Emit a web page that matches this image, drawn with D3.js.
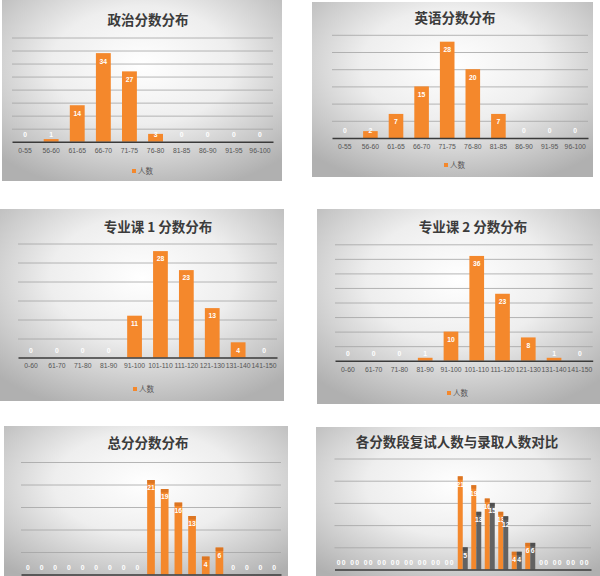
<!DOCTYPE html>
<html>
<head>
<meta charset="utf-8">
<script src="https://cdn.jsdelivr.net/npm/d3@7"></script>
<style>
  body { margin: 0; background: #fff; }
  svg text { font-family: "Liberation Sans", "Noto Sans CJK SC", sans-serif; }
  .title { font-family: "Noto Sans CJK SC", sans-serif; font-weight: 700; }
</style>
</head>
<body>
<script>
// ==================
// Data
// ==================
const politicsCats = ['0-55', '56-60', '61-65', '66-70', '71-75', '76-80', '81-85', '86-90', '91-95', '96-100'];
const politicsVals = [0, 1, 14, 34, 27, 3, 0, 0, 0, 0];
const englishVals = [0, 2, 7, 15, 28, 20, 7, 0, 0, 0];

const majorCats = ['0-60', '61-70', '71-80', '81-90', '91-100', '101-110', '111-120', '121-130', '131-140', '141-150'];
const major1Vals = [0, 0, 0, 0, 11, 28, 23, 13, 4, 0];
const major2Vals = [0, 0, 0, 1, 10, 36, 23, 8, 1, 0];

// the bottom two charts are cut off by the picture edge: their tick labels and legends are not visible
const totalCats = ['0-290', '291-300', '301-310', '311-320', '321-330', '331-340', '341-350', '351-360', '361-370',
  '371-380', '381-390', '391-400', '401-410', '411-420', '421-430', '431-440', '441-450', '451-460', '461-470'];
const retestVals = [0, 0, 0, 0, 0, 0, 0, 0, 0, 21, 19, 16, 13, 4, 6, 0, 0, 0, 0];
const admitVals = [0, 0, 0, 0, 0, 0, 0, 0, 0, 5, 13, 15, 12, 4, 6, 0, 0, 0, 0];

const seriesNames = ['人数'];
const compareNames = ['复试人数', '录取人数'];

const ORANGE = '#f4882c';
const GRAY = '#626262';

// ==================
// Layout of the six panels
// ==================
const charts = [
  { box: [2, 0, 280, 181], title: '政治分数分布', tx: 148, ty: 25, cats: politicsCats, series: [politicsVals],
    names: seriesNames, xr: [12, 273], base: 141.7, top: 37.5, max: 40, pad: 0.43, legend: [132, 171] },
  { box: [312, 2, 281, 175], title: '英语分数分布', tx: 455, ty: 23, cats: politicsCats, series: [englishVals],
    names: seriesNames, xr: [332, 588], base: 138, top: 34.8, max: 30, pad: 0.43, legend: [444, 165] },
  { box: [0, 209, 284, 192], title: '专业课 1 分数分布', tx: 158, ty: 232, cats: majorCats, series: [major1Vals],
    names: seriesNames, xr: [18, 277], base: 357.5, top: 243.5, max: 30, pad: 0.43, legend: [133, 389] },
  { box: [317, 209, 283, 195], title: '专业课 2 分数分布', tx: 473, ty: 231.5, cats: majorCats, series: [major2Vals],
    names: seriesNames, xr: [335, 592.7], base: 360.7, top: 244.3, max: 40, pad: 0.43, legend: [447, 393] },
  { box: [4, 426, 284, 160], title: '总分分数分布', tx: 148, ty: 448, cats: totalCats, series: [retestVals],
    names: seriesNames, xr: [21, 281], base: 574.5, top: 462, max: 25, pad: 0.44, labelBox: true, legend: null },
  { box: [316, 427, 284, 160], title: '各分数段复试人数与录取人数对比', tx: 457, ty: 446.5, cats: totalCats,
    series: [retestVals, admitVals], names: compareNames, xr: [334.5, 591], base: 569.5, top: 458.5, max: 25,
    pad: 0.26, labelBox: true, legend: null }
];

const svg = d3.select('body').append('svg')
  .attr('width', 600)
  .attr('height', 576);

const defs = svg.append('defs');
const grad = defs.append('radialGradient')
  .attr('id', 'panelBg')
  .attr('cx', '50%').attr('cy', '36%').attr('r', '72%');
grad.append('stop').attr('offset', '0%').attr('stop-color', '#ffffff');
grad.append('stop').attr('offset', '45%').attr('stop-color', '#eeeeee');
grad.append('stop').attr('offset', '100%').attr('stop-color', '#b0b0b0');

const drawChart = (c) => {
  const g = svg.append('g');

  g.append('rect')
    .attr('x', c.box[0]).attr('y', c.box[1])
    .attr('width', c.box[2]).attr('height', c.box[3])
    .attr('fill', 'url(#panelBg)');

  g.append('text')
    .attr('class', 'title')
    .attr('x', c.tx).attr('y', c.ty)
    .attr('text-anchor', 'middle')
    .attr('font-size', 13.5)
    .attr('fill', '#3b3b3b')
    .text(c.title);

  const x0 = d3.scaleBand()
    .domain(c.cats)
    .range(c.xr)
    .paddingInner(c.pad)
    .paddingOuter(c.pad / 2);

  const x1 = d3.scaleBand()
    .domain(d3.range(c.series.length))
    .range([0, x0.bandwidth()]);

  const y = d3.scaleLinear()
    .domain([0, c.max])
    .range([c.base, c.top]);

  // gridlines
  const gridAxis = d3.axisLeft(y)
    .tickValues(d3.range(5, c.max + 1, 5))
    .tickSize(-(c.xr[1] - c.xr[0]))
    .tickFormat('');
  const grid = g.append('g')
    .attr('transform', `translate(${c.xr[0]},0)`)
    .call(gridAxis);
  grid.select('.domain').remove();
  grid.selectAll('line').attr('stroke', '#a3a3a3').attr('stroke-width', 0.8);

  // bars
  const colors = [ORANGE, GRAY];
  const boxColors = ['#c9661c', '#3f3f3f'];
  c.series.forEach((vals, si) => {
    const rows = c.cats.map((cat, i) => ({ cat, v: vals[i] }));
    g.append('g').selectAll('rect')
      .data(rows.filter(d => d.v > 0))
      .join('rect')
      .attr('x', d => x0(d.cat) + x1(si))
      .attr('y', d => y(d.v))
      .attr('width', x1.bandwidth())
      .attr('height', d => c.base - y(d.v))
      .attr('fill', colors[si]);

    if (c.labelBox) {
      g.append('g').selectAll('rect')
        .data(rows.filter(d => d.v > 0))
        .join('rect')
        .attr('x', d => x0(d.cat) + x1(si))
        .attr('y', d => y(d.v))
        .attr('width', x1.bandwidth())
        .attr('height', 3.5)
        .attr('fill', boxColors[si])
        .attr('opacity', 0.55);
    }

    g.append('g').selectAll('text')
      .data(rows)
      .join('text')
      .attr('x', d => x0(d.cat) + x1(si) + x1.bandwidth() / 2)
      .attr('y', d => Math.min(y(d.v) + 8, c.base - 7))
      .attr('dy', '0.35em')
      .attr('text-anchor', 'middle')
      .attr('font-size', 6.8)
      .attr('font-weight', 700)
      .attr('fill', '#ffffff')
      .text(d => d.v);
  });

  // x axis
  const xAxis = d3.axisBottom(x0)
    .tickSize(0)
    .tickSizeOuter(0)
    .tickPadding(6);
  const ax = g.append('g')
    .attr('transform', `translate(0,${c.base})`)
    .call(xAxis);
  ax.select('.domain').attr('stroke', '#3a3a3a').attr('stroke-width', 1.4);
  ax.selectAll('text')
    .attr('font-size', 6.8)
    .attr('fill', '#555')
    .style('font-family', '"Liberation Sans", sans-serif');
  // tick labels that fall below the picture edge are dropped
  if (!c.legend) ax.selectAll('.tick text').remove();

  // legend
  if (!c.legend) return;
  const lg = g.append('g').attr('transform', `translate(${c.legend[0]},${c.legend[1]})`);
  c.names.forEach((name, i) => {
    lg.append('rect')
      .attr('x', i * 40).attr('y', -2)
      .attr('width', 4).attr('height', 4)
      .attr('fill', colors[i]);
    lg.append('text')
      .attr('x', i * 40 + 6).attr('y', 0)
      .attr('dy', '0.35em')
      .attr('font-size', 7.5)
      .attr('fill', '#555')
      .style('font-family', '"Noto Sans CJK SC", sans-serif')
      .text(name);
  });
};

charts.forEach(drawChart);
</script>
</body>
</html>
